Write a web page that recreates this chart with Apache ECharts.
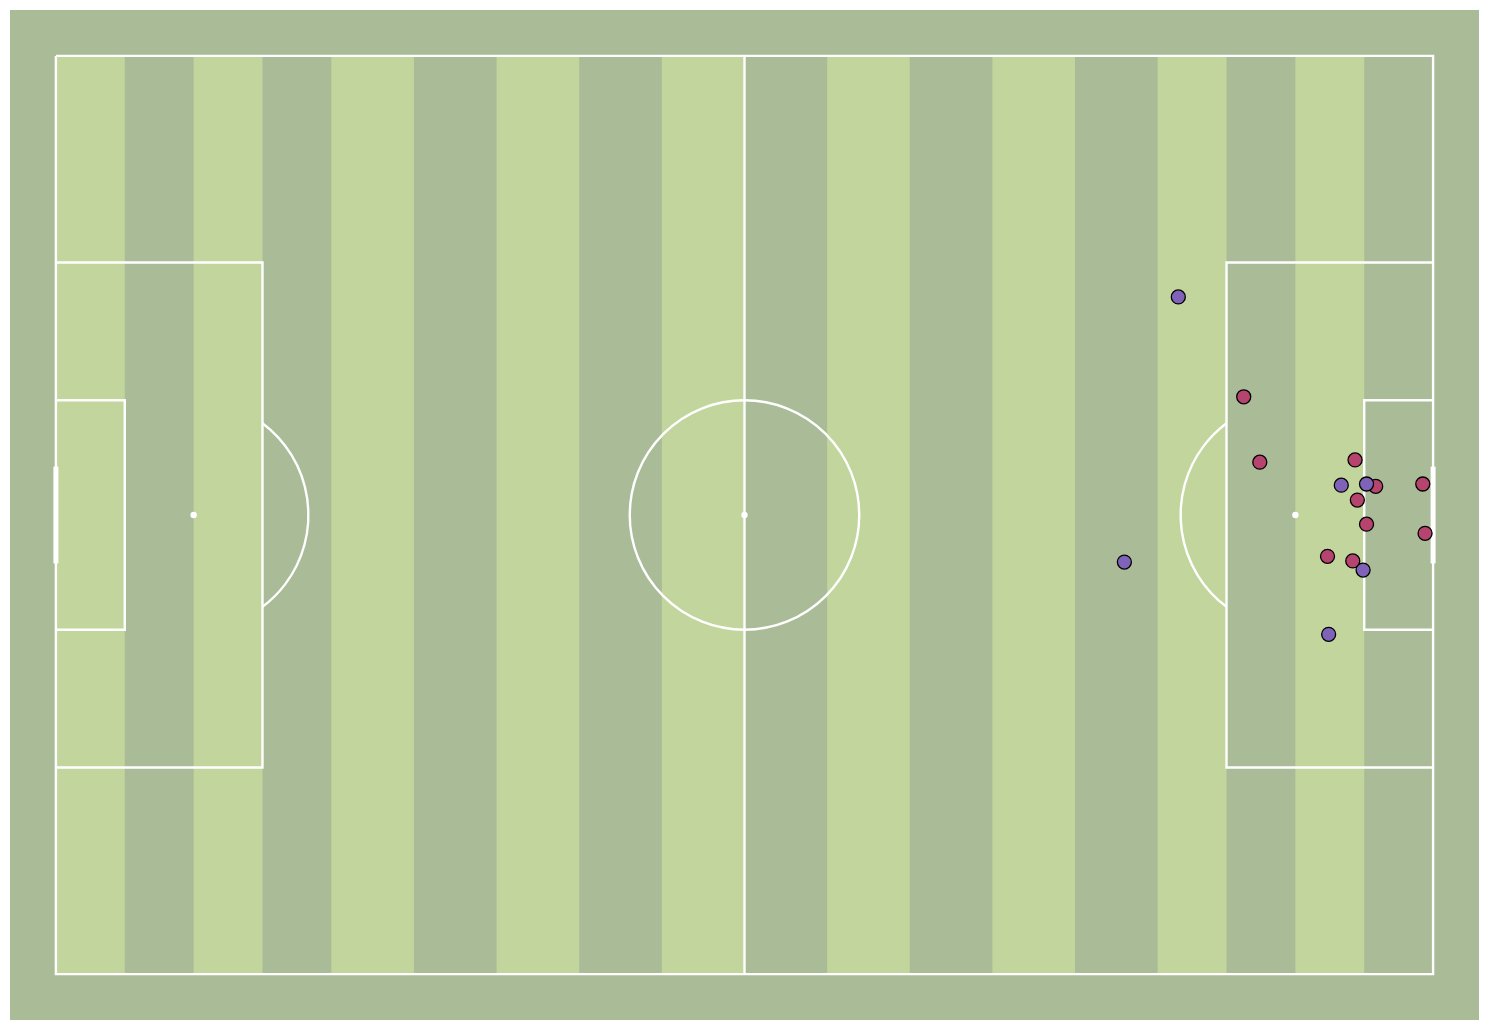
<!DOCTYPE html>
<html><head><meta charset="utf-8">
<script src="https://cdn.jsdelivr.net/npm/echarts@6/dist/echarts.min.js"></script>
<style>html,body{margin:0;padding:0;background:#fff;}#c{width:1489px;height:1030px;}</style>
</head><body><div id="c"></div>
<script>
// StatsBomb pitch 120 x 80, y downward
const pitchLength = 120, pitchWidth = 80, pad = 4;
const stripeEdges = [0,6,12,18,24,31.2,38.4,45.6,52.8,60,67.2,74.4,81.6,88.8,96,102,108,114,120];
// red shots (x, y)
const redX = [103.5,104.9,113.2,115.0,113.4,114.2,119.1,119.3,110.8,113.0];
const redY = [29.7,35.4,35.2,37.5,38.7,40.8,37.3,41.6,43.6,44.0];
// purple shots (x, y)
const purpleX = [97.8,93.1,112.0,114.2,113.9,110.9];
const purpleY = [21.0,44.1,37.4,37.3,44.8,50.4];

const GRASS = '#aabb97', STRIPE = '#c2d59d', LINE = '#ffffff';
const redData = redX.map((x,i)=>[x, redY[i]]);
const purpleData = purpleX.map((x,i)=>[x, purpleY[i]]);
const lightStripes = [];
for (let i = 0; i < stripeEdges.length - 1; i += 2) lightStripes.push([stripeEdges[i], stripeEdges[i+1]]);

// pitch line segments (polylines)
const polylines = [
  [[0,0],[120,0],[120,80],[0,80],[0,0]],
  [[60,0],[60,80]],
  [[0,18],[18,18],[18,62],[0,62]],
  [[120,18],[102,18],[102,62],[120,62]],
  [[0,30],[6,30],[6,50],[0,50]],
  [[120,30],[114,30],[114,50],[120,50]]
];
const goals = [[[0,36],[0,44]],[[120,36],[120,44]]];
const spots = [[12,40],[60,40],[108,40]];

const LW = 2.4;
const chart = echarts.init(document.getElementById('c'));
chart.setOption({
  animation: false,
  backgroundColor: '#ffffff',
  grid: {left: 10, top: 10, width: 1469, height: 1010, show: true, backgroundColor: GRASS, borderWidth: 0},
  xAxis: {type: 'value', min: -pad, max: pitchLength + pad, show: false},
  yAxis: {type: 'value', min: -pad, max: pitchWidth + pad, inverse: true, show: false},
  series: [
    {
      type: 'custom', z: 1, silent: true,
      data: lightStripes,
      renderItem: function(params, api){
        const p0 = api.coord([api.value(0), 0]);
        const p1 = api.coord([api.value(1), pitchWidth]);
        return {type:'rect', shape:{x:p0[0], y:p0[1], width:p1[0]-p0[0], height:p1[1]-p0[1]}, style:{fill:STRIPE}};
      }
    },
    {
      type: 'custom', z: 2, silent: true,
      data: [0],
      renderItem: function(params, api){
        const children = [];
        polylines.forEach(pl => {
          children.push({type:'polyline', shape:{points: pl.map(p=>api.coord(p))}, style:{stroke:LINE, lineWidth:LW, fill:null, lineJoin:'miter'}});
        });
        const r = api.size([10,0])[0];
        const c = api.coord([60,40]);
        children.push({type:'circle', shape:{cx:c[0], cy:c[1], r:r}, style:{stroke:LINE, lineWidth:LW, fill:null}});
        const ang = Math.acos(0.6);
        const lc = api.coord([12,40]);
        children.push({type:'arc', shape:{cx:lc[0], cy:lc[1], r:r, startAngle:-ang, endAngle:ang}, style:{stroke:LINE, lineWidth:LW, fill:null}});
        const rc = api.coord([108,40]);
        children.push({type:'arc', shape:{cx:rc[0], cy:rc[1], r:r, startAngle:Math.PI-ang, endAngle:Math.PI+ang}, style:{stroke:LINE, lineWidth:LW, fill:null}});
        goals.forEach(g => {
          children.push({type:'line', shape:{x1:api.coord(g[0])[0], y1:api.coord(g[0])[1], x2:api.coord(g[1])[0], y2:api.coord(g[1])[1]}, style:{stroke:LINE, lineWidth:5, lineCap:'square'}});
        });
        spots.forEach(s => {
          const p = api.coord(s);
          children.push({type:'circle', shape:{cx:p[0], cy:p[1], r:3.2}, style:{fill:LINE}});
        });
        return {type:'group', children: children};
      }
    },
    {
      type: 'scatter', z: 3, symbolSize: 14, data: redData,
      itemStyle: {color: '#b5446e', borderColor: '#000', borderWidth: 1.3, opacity: 1}
    },
    {
      type: 'scatter', z: 4, symbolSize: 14, data: purpleData,
      itemStyle: {color: '#7f63b8', borderColor: '#000', borderWidth: 1.3, opacity: 1}
    }
  ]
});
</script></body></html>
